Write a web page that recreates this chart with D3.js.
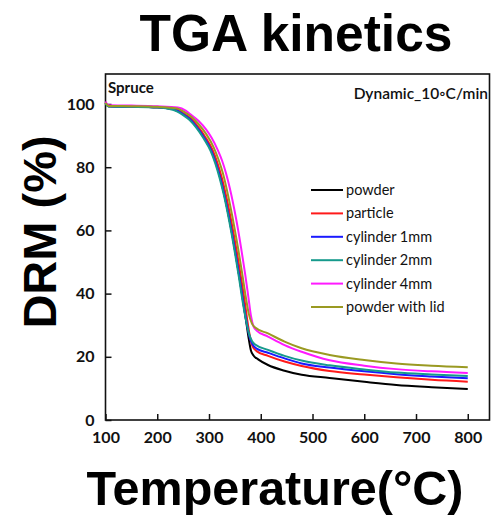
<!DOCTYPE html>
<html><head><meta charset="utf-8">
<script src="https://cdn.jsdelivr.net/npm/d3@7"></script>
<style>body{margin:0;background:#fff}svg{display:block}</style>
</head><body>
<svg id="c" width="491" height="517"></svg>
<script>
const xTicks = [100,200,300,400,500,600,700,800];
const yTicks = [0,20,40,60,80,100];
const seriesNames = ["powder","particle","cylinder 1mm","cylinder 2mm","cylinder 4mm","powder with lid"];
const seriesColors = ["#000000","#ff1a1a","#1a1aff","#169a8c","#ff1aff","#9a9a22"];

const powder = [[100,100.4],[106,99.3],[150,99.2],[200,99.0],[230,98.4],[250,96.8],[262,95.4],[275,93],[290,89.5],[304,85.4],[313,81.5],[322,76.5],[330,71],[340,63],[351,53],[359,45],[366,37.5],[372,31],[377,25.5],[381,22],[386,20.4],[395,19.2],[414,17.4],[446,15.6],[479,14.3],[533,13.3],[600,12.1],[662,11.1],[730,10.4],[800,9.8]];
const particle = [[100,100.3],[106,99.3],[150,99.2],[200,99.0],[235,98.4],[253,96.8],[265,95.4],[278,93],[293,89.5],[307,85.4],[316,81.5],[325,76.5],[333,71],[343,63],[354,53],[362,45],[369,37.5],[374,31.5],[379,26.5],[384,23.4],[392,21.8],[414,20.3],[446,18.5],[479,17.1],[533,15.5],[600,14.4],[662,13.5],[730,12.7],[800,12.1]];
const cyl1 = [[100,100.3],[106,99.3],[150,99.2],[200,99.0],[230,98.4],[250,96.8],[262,95.4],[275,93],[290,89.5],[304,85.4],[313,81.5],[322,76.5],[330,71],[340,63],[351,53],[359,45],[366,37.5],[372,31.5],[378,26.5],[384,24],[392,22.6],[414,21.3],[446,19.5],[479,17.9],[533,16.6],[600,15.4],[662,14.5],[730,13.8],[800,13.2]];
const cyl2 = [[100,100.2],[106,99.2],[150,99.1],[200,98.9],[230,98.2],[250,96.5],[262,95],[275,92.6],[290,89],[303,85.2],[312,81.3],[321,76.3],[329,71],[339,63],[350,53],[358,45],[365,37.5],[371,32],[377,27.5],[383,25],[390,23.8],[414,22.2],[446,20.3],[479,18.8],[533,17.3],[600,16],[662,15],[730,14.4],[800,13.9]];
const cyl4 = [[100,100.8],[106,99.6],[150,99.5],[200,99.3],[240,98.9],[255,97.9],[262,97],[280,94.6],[295,91.8],[305,89.3],[317,85.4],[325,82.2],[333,78],[340,73.5],[352,64],[362,54.5],[370,46],[376,39],[381,33],[386,29.6],[392,28.3],[414,26.4],[446,23.7],[479,21.6],[533,18.9],[600,17.2],[662,16.1],[730,15.4],[800,14.9]];
const lid = [[100,100.4],[106,99.4],[150,99.3],[200,99.1],[238,98.6],[255,97.2],[267,95.8],[280,93.6],[295,90.4],[309,86.3],[318,82.6],[327,78],[335,72.5],[345,64.5],[356,54.5],[364,46.5],[371,39],[377,33.5],[383,30.5],[390,29.2],[414,27.4],[446,24.8],[479,22.7],[533,20.6],[600,19],[662,17.9],[730,17.2],[800,16.7]];
const seriesData = [powder, particle, cyl1, cyl2, cyl4, lid];

const svg = d3.select("#c");
const L = 105.5, R = 489.5, T = 74, B = 420;
const x = d3.scaleLinear().domain([100, 842]).range([L, R]);
const y = d3.scaleLinear().domain([0, 109.5]).range([B, T]);

// frame
svg.append("rect").attr("x", L).attr("y", T).attr("width", R - L).attr("height", B - T)
  .attr("fill", "none").attr("stroke", "#111").attr("stroke-width", 1.6);

// x axis (ticks inward)
const xa = svg.append("g").attr("transform", `translate(0,${B})`)
  .call(d3.axisBottom(x).tickValues(xTicks).tickSizeInner(-6).tickSizeOuter(0).tickPadding(12));
xa.select(".domain").remove();
xa.selectAll("line").attr("stroke", "#111").attr("stroke-width", 1.5);
xa.selectAll("text").attr("font-family", "Lato, sans-serif").attr("font-weight", 700)
  .attr("font-size", 16).attr("fill", "#111");

// y axis (ticks inward)
const ya = svg.append("g").attr("transform", `translate(${L},0)`)
  .call(d3.axisLeft(y).tickValues(yTicks).tickSizeInner(-6).tickSizeOuter(0).tickPadding(11));
ya.select(".domain").remove();
ya.selectAll("line").attr("stroke", "#111").attr("stroke-width", 1.5);
ya.selectAll("text").attr("font-family", "Lato, sans-serif").attr("font-weight", 700)
  .attr("font-size", 16).attr("fill", "#111");

// curves
const line = d3.line().x(d => x(d[0])).y(d => y(d[1])).curve(d3.curveMonotoneX);
svg.append("g").selectAll("path").data(seriesData).join("path")
  .attr("d", line).attr("fill", "none")
  .attr("stroke", (d, i) => seriesColors[i]).attr("stroke-width", 2);

// legend
const lg = svg.append("g");
seriesNames.forEach((n, i) => {
  const yy = 190 + i * 23.4;
  lg.append("line").attr("x1", 311).attr("x2", 343).attr("y1", yy).attr("y2", yy)
    .attr("stroke", seriesColors[i]).attr("stroke-width", 2);
  lg.append("text").attr("x", 346).attr("y", yy + 5).text(n)
    .attr("font-family", "Lato, sans-serif").attr("font-size", 14.5).attr("fill", "#111");
});

// annotations
svg.append("text").attr("x", 108).attr("y", 93).text("Spruce")
  .attr("font-family", "Lato, sans-serif").attr("font-weight", 700).attr("font-size", 15).attr("fill", "#111");
svg.append("text").attr("x", 488).attr("y", 99).attr("text-anchor", "end").text("Dynamic_10\u25E6C/min")
  .attr("font-family", "Lato, sans-serif").attr("font-weight", 600).attr("font-size", 15.5).attr("fill", "#111");

// titles
svg.append("text").attr("x", 296).attr("y", 51).attr("text-anchor", "middle").text("TGA kinetics")
  .attr("font-family", "Liberation Sans, Arial, sans-serif").attr("font-weight", 700).attr("font-size", 51.5).attr("fill", "#000");
svg.append("text").attr("x", 275).attr("y", 505).attr("text-anchor", "middle").text("Temperature(°C)")
  .attr("font-family", "Liberation Sans, Arial, sans-serif").attr("font-weight", 700).attr("font-size", 48.5).attr("fill", "#000");
svg.append("text").attr("transform", "translate(56,232) rotate(-90)").attr("text-anchor", "middle").text("DRM (%)")
  .attr("font-family", "Liberation Sans, Arial, sans-serif").attr("font-weight", 700).attr("font-size", 47).attr("fill", "#000");
</script>
</body></html>
